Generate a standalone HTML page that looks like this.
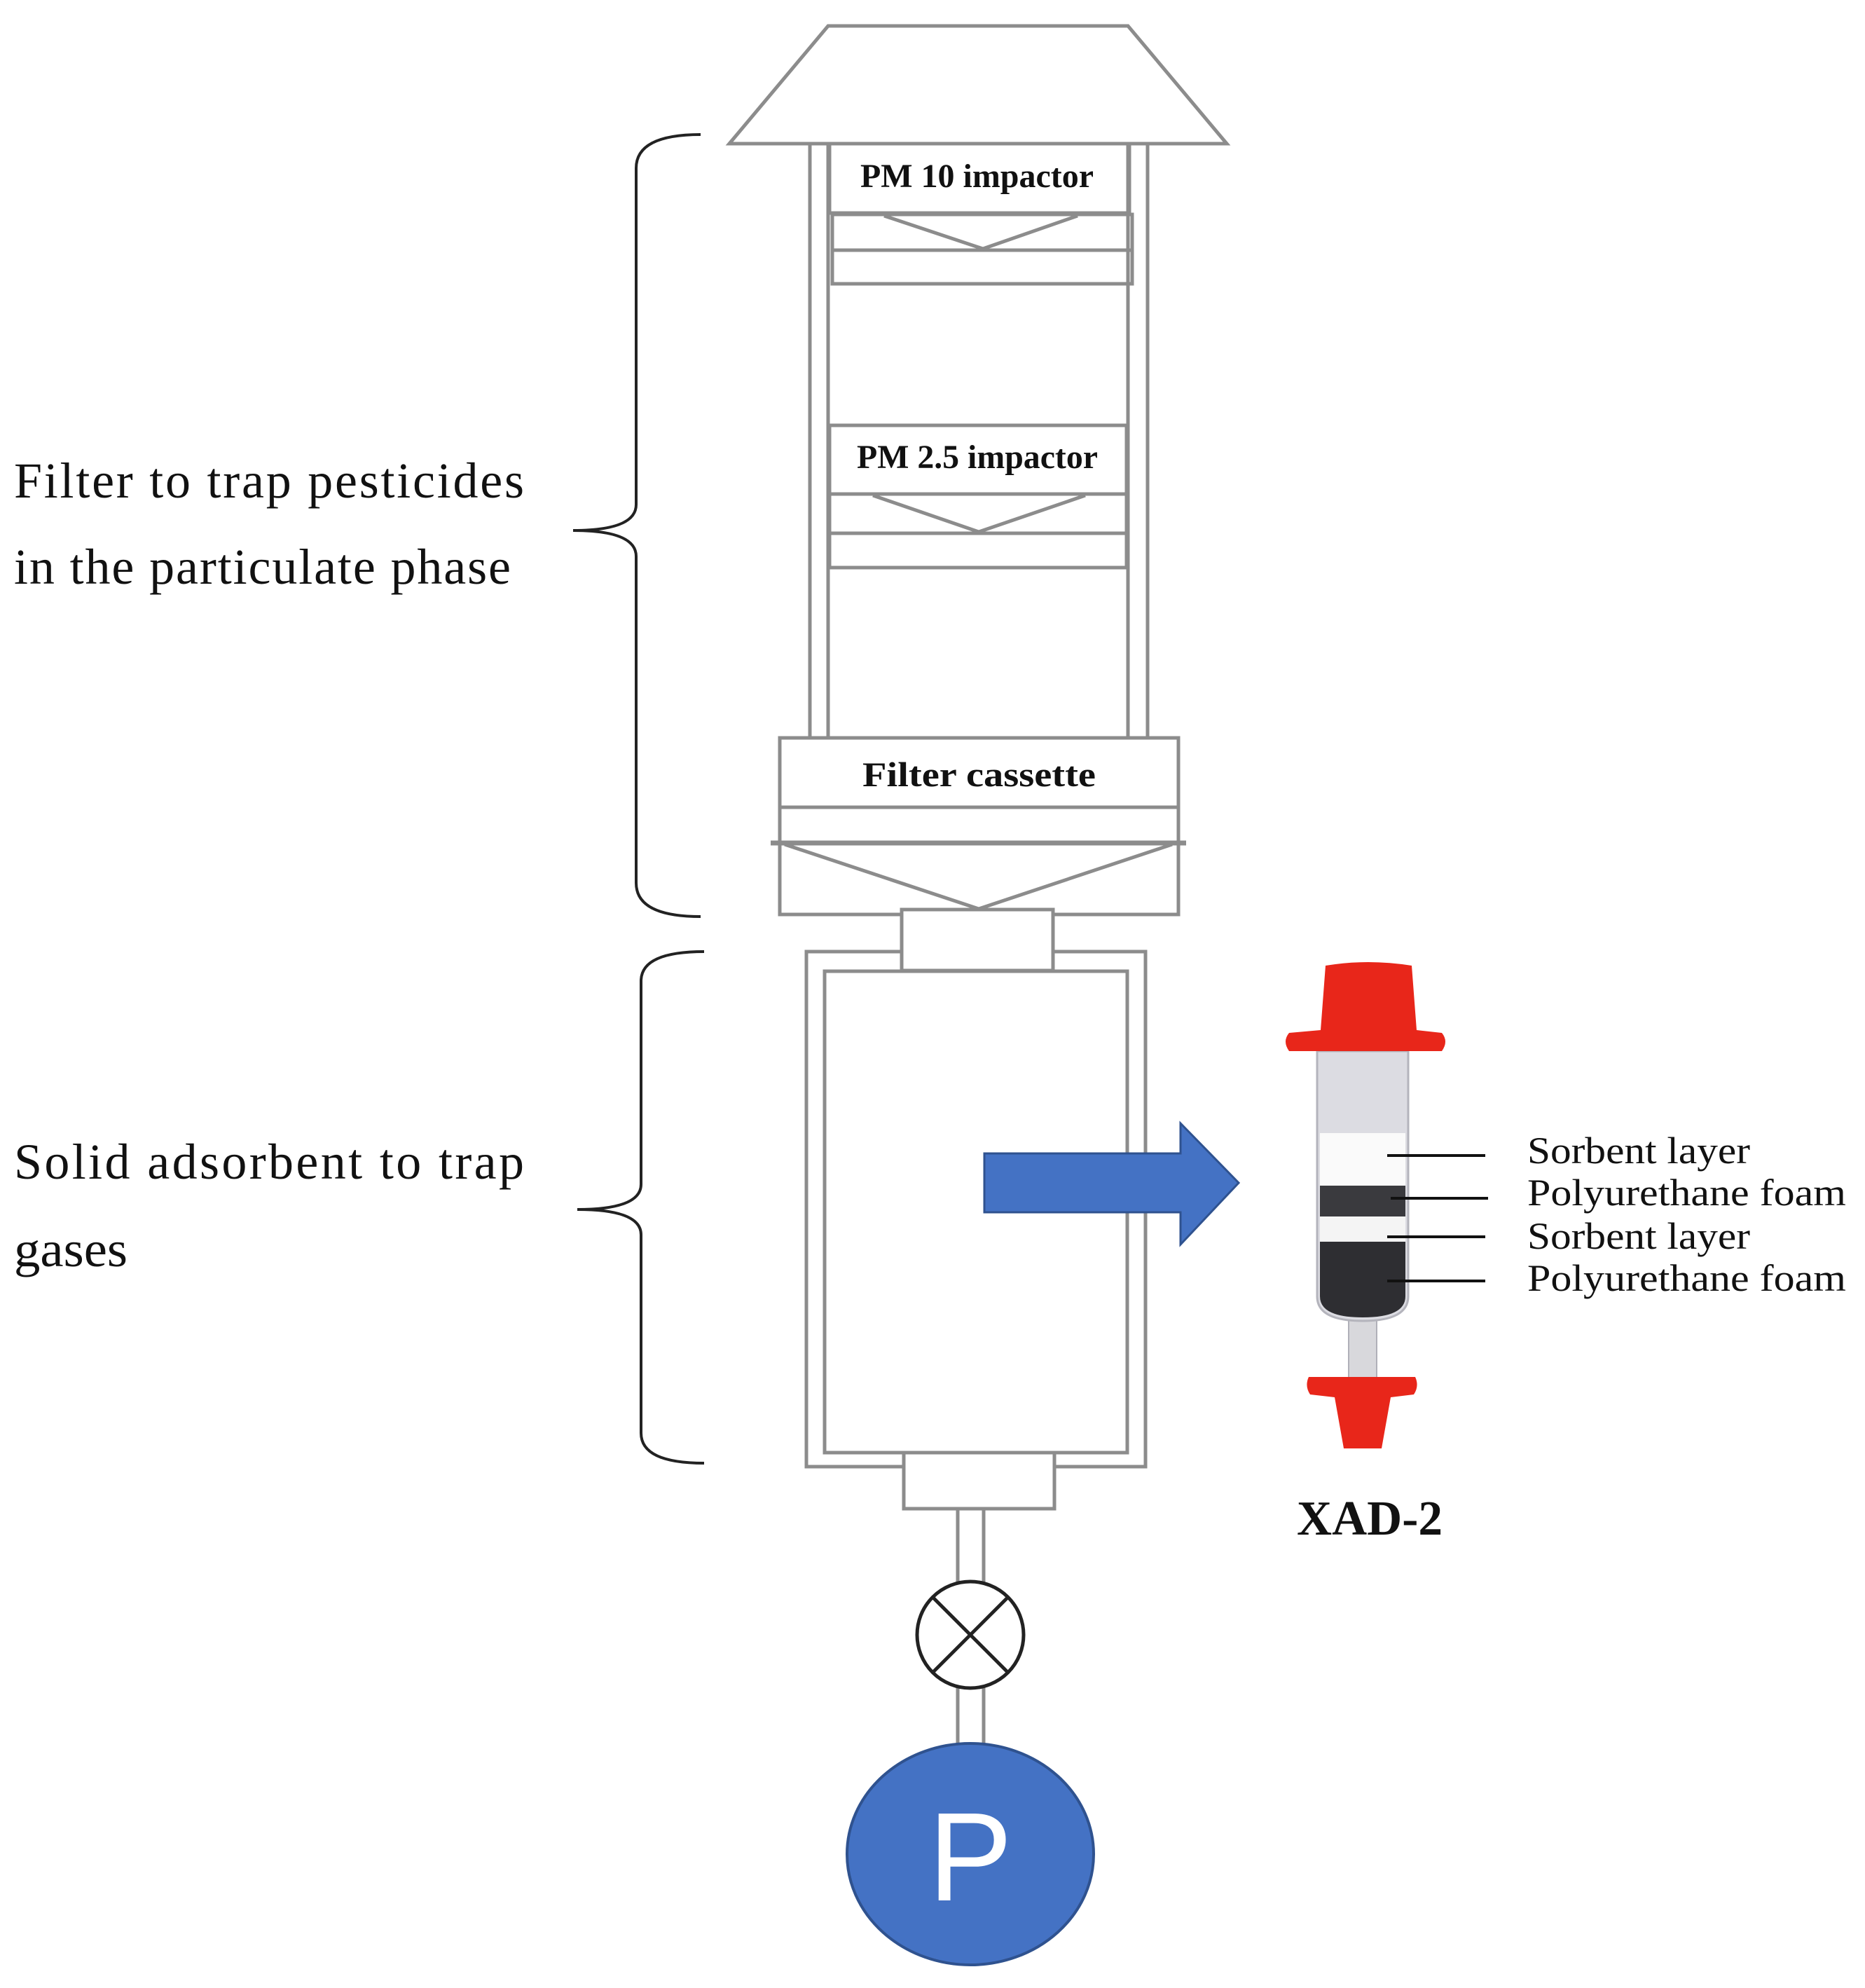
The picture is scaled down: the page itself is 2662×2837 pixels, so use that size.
<!DOCTYPE html>
<html><head><meta charset="utf-8"><style>html,body{margin:0;padding:0;background:#fff}svg{display:block}</style></head>
<body>
<svg width="2662" height="2837" viewBox="0 0 2662 2837" xmlns="http://www.w3.org/2000/svg">
<g fill="none" stroke="#8c8c8c" stroke-width="5">
  <polygon points="1182,37 1610,37 1751,205 1041,205"/>
  <line x1="1156" y1="205" x2="1156" y2="1053"/>
  <line x1="1182" y1="205" x2="1182" y2="1053"/>
  <line x1="1610" y1="205" x2="1610" y2="1053"/>
  <line x1="1638" y1="205" x2="1638" y2="1053"/>
  <rect x="1184" y="205" width="428" height="99"/>
  <rect x="1188" y="306" width="428" height="51"/>
  <rect x="1188" y="357" width="428" height="48"/>
  <polyline points="1262,308 1403,355 1538,308"/>
  <rect x="1184" y="607" width="424" height="98"/>
  <rect x="1184" y="705" width="424" height="56"/>
  <rect x="1184" y="761" width="424" height="49"/>
  <polyline points="1246,707 1397,759 1549,707"/>
  <rect x="1113" y="1053" width="569" height="252"/>
  <line x1="1113" y1="1152" x2="1682" y2="1152"/>
  <line x1="1100" y1="1203" x2="1693" y2="1203" stroke-width="7"/>
  <polyline points="1120,1205 1397,1297 1673,1205"/>
  <rect x="1287" y="1298" width="216" height="87" fill="#fff"/>
  <polyline points="1287,1358 1151,1358 1151,2093 1290,2093"/>
  <polyline points="1503,1358 1635,1358 1635,2093 1505,2093"/>
  <rect x="1177" y="1386" width="432" height="687"/>
  <rect x="1290" y="2073" width="215" height="80"/>
  <line x1="1367" y1="2153" x2="1367" y2="2258"/>
  <line x1="1404" y1="2153" x2="1404" y2="2258"/>
  <line x1="1367" y1="2408" x2="1367" y2="2490"/>
  <line x1="1404" y1="2408" x2="1404" y2="2490"/>
</g>
<g stroke="#222" stroke-width="5" fill="#fff">
  <circle cx="1385" cy="2333" r="76"/>
  <line x1="1331" y1="2279" x2="1439" y2="2387"/>
  <line x1="1439" y1="2279" x2="1331" y2="2387"/>
</g>
<ellipse cx="1385" cy="2646" rx="176" ry="158" fill="#4472c4" stroke="#2f528f" stroke-width="4"/>
<text x="1385" y="2712" font-family="Liberation Sans, sans-serif" font-size="180" fill="#fff" text-anchor="middle">P</text>
<g fill="none" stroke="#222" stroke-width="4">
  <path d="M1000,192 Q908,192 908,240 L908,720 Q908,757 818,757 Q908,757 908,794 L908,1260 Q908,1308 1000,1308"/>
  <path d="M1005,1358 Q915,1358 915,1400 L915,1690 Q915,1726 824,1726 Q915,1726 915,1762 L915,2045 Q915,2088 1005,2088"/>
</g>
<polygon points="1405,1646 1685,1646 1685,1603 1768,1688 1685,1776 1685,1730 1405,1730" fill="#4472c4" stroke="#2f528f" stroke-width="3"/>
<g>
  <rect x="1925" y="1860" width="40" height="115" fill="#d8d8dc" stroke="#b0b0b8" stroke-width="2"/>
  <path d="M1880,1500 L2010,1500 L2010,1850 Q2010,1885 1945,1885 Q1880,1885 1880,1850 Z" fill="#dcdce2" stroke="#b4b4bc" stroke-width="3"/>
  <rect x="1884" y="1617" width="122" height="75" fill="#fafafa"/>
  <rect x="1884" y="1692" width="122" height="44" fill="#3a3a3e"/>
  <rect x="1884" y="1736" width="122" height="36" fill="#f4f4f4"/>
  <path d="M1884,1772 L2006,1772 L2006,1850 Q2006,1880 1945,1880 Q1884,1880 1884,1850 Z" fill="#2e2e32"/>
  <path d="M1892,1378 Q1952,1368 2015,1378 L2022,1470 L2058,1474 Q2068,1486 2058,1500 L1840,1500 Q1830,1486 1840,1474 L1885,1470 Z" fill="#e8261a"/>
  <path d="M1868,1965 L2020,1965 Q2026,1978 2018,1990 L1985,1994 L1972,2067 L1918,2067 L1905,1994 L1870,1990 Q1862,1978 1868,1965 Z" fill="#e8261a"/>
</g>
<g stroke="#111" stroke-width="4">
  <line x1="1980" y1="1649" x2="2120" y2="1649"/>
  <line x1="1985" y1="1710" x2="2124" y2="1710"/>
  <line x1="1980" y1="1765" x2="2120" y2="1765"/>
  <line x1="1980" y1="1828" x2="2120" y2="1828"/>
</g>
<g font-family="Liberation Serif, serif" fill="#111">
  <text x="2180" y="1660" font-size="54" textLength="318" lengthAdjust="spacingAndGlyphs">Sorbent layer</text>
  <text x="2180" y="1720" font-size="54" textLength="455" lengthAdjust="spacingAndGlyphs">Polyurethane foam</text>
  <text x="2180" y="1782" font-size="54" textLength="318" lengthAdjust="spacingAndGlyphs">Sorbent layer</text>
  <text x="2180" y="1842" font-size="54" textLength="455" lengthAdjust="spacingAndGlyphs">Polyurethane foam</text>
  <text x="1851" y="2190" font-size="70" font-weight="bold" textLength="208" lengthAdjust="spacingAndGlyphs">XAD-2</text>
  <text x="1228" y="267" font-size="48" font-weight="bold" textLength="333" lengthAdjust="spacingAndGlyphs">PM 10 impactor</text>
  <text x="1223" y="668" font-size="48" font-weight="bold" textLength="344" lengthAdjust="spacingAndGlyphs">PM 2.5 impactor</text>
  <text x="1231" y="1122" font-size="50" font-weight="bold" textLength="333" lengthAdjust="spacingAndGlyphs">Filter cassette</text>
  <text x="20" y="710" font-size="72" textLength="728" lengthAdjust="spacing">Filter to trap pesticides</text>
  <text x="20" y="833" font-size="72" textLength="709" lengthAdjust="spacing">in the particulate phase</text>
  <text x="20" y="1682" font-size="72" textLength="728" lengthAdjust="spacing">Solid adsorbent to trap</text>
  <text x="20" y="1807" font-size="72" textLength="162" lengthAdjust="spacingAndGlyphs">gases</text>
</g>
</svg>
</body></html>
